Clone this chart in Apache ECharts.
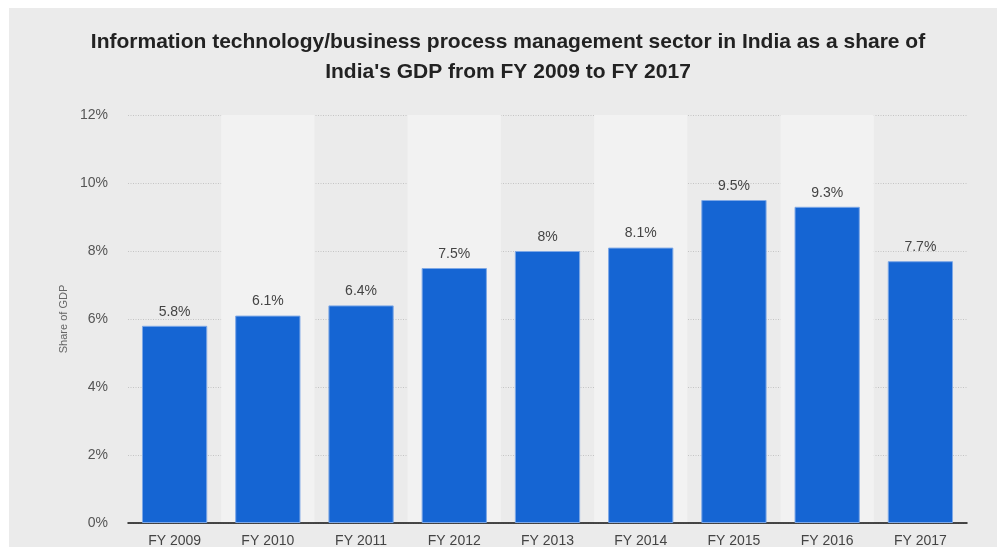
<!DOCTYPE html>
<html>
<head>
<meta charset="utf-8">
<script src="https://cdn.jsdelivr.net/npm/echarts@6/dist/echarts.min.js"></script>
<style>
  html, body { margin: 0; padding: 0; background: #ffffff; width: 997px; height: 547px; overflow: hidden; }
  #chart { position: absolute; left: 9px; top: 8px; width: 988px; height: 539px; background: #ebebeb; }
</style>
</head>
<body>
<div id="chart"></div>
<script>
// IT-BPM sector share of India's GDP, fiscal years 2009-2017
const categories = ['FY 2009', 'FY 2010', 'FY 2011', 'FY 2012', 'FY 2013', 'FY 2014', 'FY 2015', 'FY 2016', 'FY 2017'];
const shareOfGdp = [5.8, 6.1, 6.4, 7.5, 8, 8.1, 9.5, 9.3, 7.7];
const yTicks = [0, 2, 4, 6, 8, 10, 12];

const chart = echarts.init(document.getElementById('chart'), null, { renderer: 'canvas' });

const font = 'Liberation Sans, Arial, Helvetica, sans-serif';

chart.setOption({
  animation: false,
  title: {
    text: "Information technology/business process management sector in India as a share of\nIndia's GDP from FY 2009 to FY 2017",
    left: 494,
    textAlign: 'center',
    top: 14,
    textStyle: {
      fontFamily: font,
      fontSize: 21,
      fontWeight: 'bold',
      color: '#222222',
      lineHeight: 30
    }
  },
  grid: { left: 119, right: 30, top: 107, bottom: 24, containLabel: false, outerBoundsMode: 'none' },
  xAxis: {
    type: 'category',
    data: categories,
    axisLine: { show: true, lineStyle: { color: '#111111', width: 1.5 } },
    axisTick: { show: false },
    axisLabel: { fontFamily: font, fontSize: 14, color: '#444444', margin: 11 },
    splitArea: { show: true, areaStyle: { color: ['rgba(0,0,0,0)', '#f2f2f2'] } }
  },
  yAxis: {
    type: 'value',
    min: yTicks[0],
    max: yTicks[yTicks.length - 1],
    interval: 2,
    name: 'Share of GDP',
    nameLocation: 'middle',
    nameGap: 58,
    nameTextStyle: { fontFamily: font, fontSize: 11, color: '#666666' },
    axisLine: { show: false },
    axisTick: { show: false },
    axisLabel: { fontFamily: font, fontSize: 14, color: '#555555', margin: 20, formatter: '{value}%' },
    splitLine: { show: true, lineStyle: { color: '#c4c4c4', type: [1, 1.5], width: 1 } }
  },
  series: [{
    type: 'bar',
    data: shareOfGdp,
    barWidth: '70%',
    itemStyle: { color: '#1565d3', borderColor: '#7ea8e6', borderWidth: 1 },
    label: {
      show: true,
      position: 'top',
      distance: 7,
      fontFamily: font,
      fontSize: 14,
      color: '#444444',
      formatter: (p) => p.value + '%'
    }
  }]
});
</script>
</body>
</html>
